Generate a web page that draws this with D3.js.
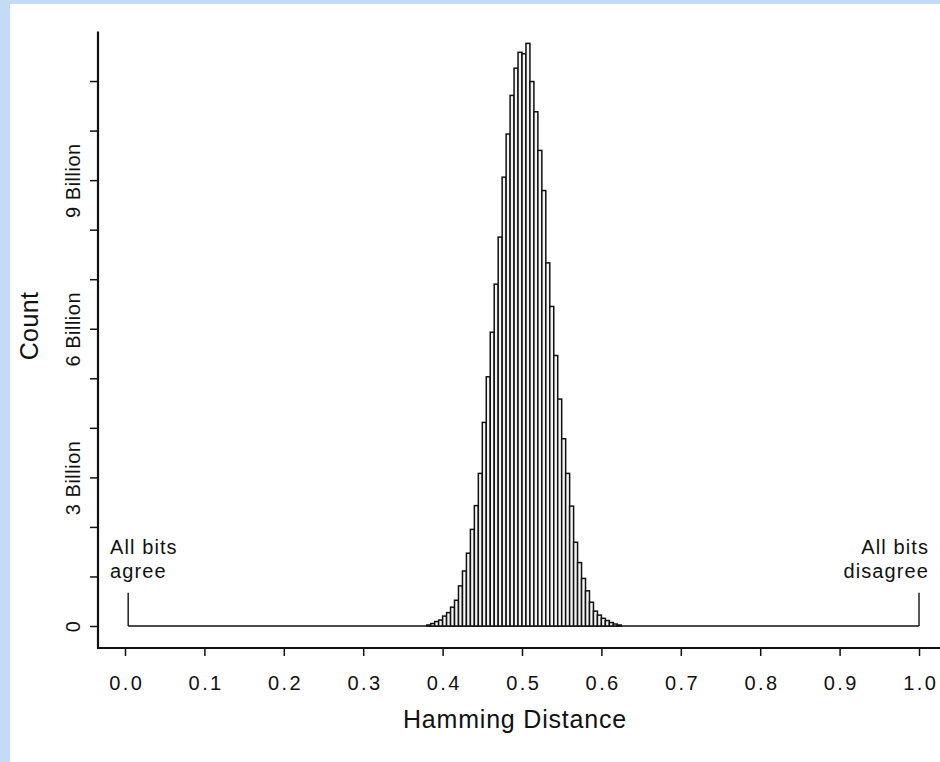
<!DOCTYPE html>
<html>
<head>
<meta charset="utf-8">
<script src="https://cdn.jsdelivr.net/npm/d3@7"></script>
<style>
  html, body { margin: 0; padding: 0; background: #c4dbf6; }
  svg { display: block; }
  text { font-family: "Liberation Sans", Arial, Helvetica, sans-serif; fill: #111; }
</style>
</head>
<body>
<svg id="chart" width="940" height="762"></svg>
<script>
// Lower edge of each Hamming-distance bin (bin width 0.005)
const binWidth = 0.005;
const binLower = [
  0.380, 0.385, 0.390, 0.395, 0.400, 0.405, 0.410, 0.415, 0.420, 0.425,
  0.430, 0.435, 0.440, 0.445, 0.450, 0.455, 0.460, 0.465, 0.470, 0.475,
  0.480, 0.485, 0.490, 0.495, 0.500, 0.505, 0.510, 0.515, 0.520, 0.525,
  0.530, 0.535, 0.540, 0.545, 0.550, 0.555, 0.560, 0.565, 0.570, 0.575,
  0.580, 0.585, 0.590, 0.595, 0.600, 0.605, 0.610, 0.615, 0.620
];
// Number of comparisons per bin, in billions
const countBillions = [
  0.02, 0.05, 0.09, 0.12, 0.20, 0.27, 0.38, 0.52, 0.81, 1.11,
  1.47, 1.95, 2.43, 3.08, 4.11, 5.03, 5.93, 6.90, 7.85, 9.06,
  9.93, 10.71, 11.26, 11.58, 11.55, 11.76, 10.99, 10.38, 9.60, 8.79,
  7.33, 6.45, 5.46, 4.58, 3.78, 3.08, 2.42, 1.69, 1.28, 0.96,
  0.71, 0.48, 0.30, 0.22, 0.155, 0.11, 0.07, 0.04, 0.02
];

const xTicks = [0.0, 0.1, 0.2, 0.3, 0.4, 0.5, 0.6, 0.7, 0.8, 0.9, 1.0];
const yTicks = [0, 1, 2, 3, 4, 5, 6, 7, 8, 9, 10, 11];
const yTickLabels = ["0", "", "", "3 Billion", "", "", "6 Billion", "", "", "9 Billion", "", ""];

// Extremes of the distance range, marked on the zero line
const extremes = [
  { x: 0.004, lines: ["All bits", "agree"], anchor: "start" },
  { x: 1.0, lines: ["All bits", "disagree"], anchor: "end" }
];
const extremeMarkHeight = 0.67;

const svg = d3.select("#chart");

// white sheet inside the light blue frame
svg.append("rect").attr("x", 10).attr("y", 4).attr("width", 930).attr("height", 758).attr("fill", "#fff");

const x = d3.scaleLinear().domain([0, 1]).range([125, 919]);
const y = d3.scaleLinear().domain([0, 12]).range([626, 31.5]);

const axisX = 98, axisY = 648;

// zero line between the two extremes
svg.append("line")
  .attr("x1", x(extremes[0].x)).attr("x2", x(extremes[1].x))
  .attr("y1", y(0)).attr("y2", y(0))
  .attr("stroke", "#111").attr("stroke-width", 1.4);

// extreme markers and their labels
extremes.forEach(e => {
  svg.append("line")
    .attr("x1", x(e.x)).attr("x2", x(e.x))
    .attr("y1", y(0)).attr("y2", y(extremeMarkHeight))
    .attr("stroke", "#111").attr("stroke-width", 1.4);
  const tx = e.anchor === "start" ? 110 : 929;
  e.lines.forEach((t, i) => {
    svg.append("text")
      .attr("x", tx).attr("y", 554 + i * 23.5)
      .attr("text-anchor", e.anchor)
      .attr("font-size", 20)
      .attr("letter-spacing", 1.1)
      .text(t);
  });
});

// histogram bars
svg.append("g").selectAll("rect")
  .data(binLower.map((b, i) => ({ lo: b, v: countBillions[i] })))
  .join("rect")
  .attr("x", d => x(d.lo))
  .attr("width", d => x(d.lo + binWidth) - x(d.lo))
  .attr("y", d => y(d.v))
  .attr("height", d => y(0) - y(d.v))
  .attr("fill", "#f4f4f4")
  .attr("stroke", "#111")
  .attr("stroke-width", 1.5);

// x axis
const gx = svg.append("g").attr("transform", `translate(0,${axisY})`)
  .call(d3.axisBottom(x).tickValues(xTicks).tickSize(8).tickFormat(d3.format(".1f")));
gx.select(".domain").remove();
gx.selectAll(".tick line").attr("stroke", "#111").attr("stroke-width", 1.5);
gx.selectAll(".tick text")
  .attr("y", 42).attr("dy", 0).attr("dx", 1.2)
  .attr("font-size", 20).attr("letter-spacing", 2.4)
  .attr("font-family", "Liberation Sans, Arial, sans-serif")
  .attr("fill", "#111");
svg.append("line")
  .attr("x1", axisX - 1).attr("x2", 940).attr("y1", axisY).attr("y2", axisY)
  .attr("stroke", "#111").attr("stroke-width", 2.2);

// y axis
const gy = svg.append("g").attr("transform", `translate(${axisX},0)`)
  .call(d3.axisLeft(y).tickValues(yTicks).tickSize(8).tickFormat((d, i) => yTickLabels[i]));
gy.select(".domain").remove();
gy.selectAll(".tick line").attr("stroke", "#111").attr("stroke-width", 1.5);
gy.selectAll(".tick text")
  .attr("x", 0).attr("y", 0).attr("dy", 0)
  .attr("transform", "translate(-18,0) rotate(-90)")
  .attr("text-anchor", "middle")
  .attr("font-size", 20).attr("letter-spacing", 0.5)
  .attr("font-family", "Liberation Sans, Arial, sans-serif")
  .attr("fill", "#111");
svg.append("line")
  .attr("x1", axisX).attr("x2", axisX).attr("y1", y(12)).attr("y2", axisY + 1)
  .attr("stroke", "#111").attr("stroke-width", 2.2);

// axis titles
svg.append("text")
  .attr("x", 515).attr("y", 728)
  .attr("text-anchor", "middle")
  .attr("font-size", 25).attr("letter-spacing", 0.8)
  .text("Hamming Distance");

svg.append("text")
  .attr("transform", "translate(38,326) rotate(-90)")
  .attr("text-anchor", "middle")
  .attr("font-size", 25).attr("letter-spacing", 0.4)
  .text("Count");
</script>
</body>
</html>
